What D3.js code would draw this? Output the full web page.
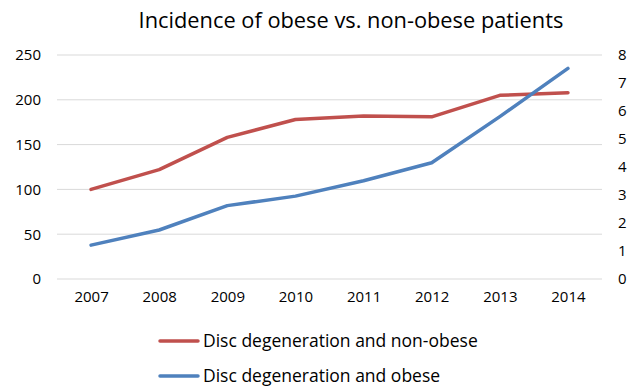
<!DOCTYPE html>
<html>
<head>
<meta charset="utf-8">
<script src="https://cdn.jsdelivr.net/npm/d3@7"></script>
<style>
  html, body { margin: 0; padding: 0; background: #fff; }
  svg text { font-family: "Open Sans", "Liberation Sans", sans-serif; fill: #000; }
</style>
</head>
<body>
<svg id="chart" width="641" height="389"></svg>
<script>
// Yearly incidence, non-obese on the left axis, obese on the right axis
const years = ["2007", "2008", "2009", "2010", "2011", "2012", "2013", "2014"];
const nonObese = [100, 122, 158, 178, 182, 181, 205, 208];
const obese = [1.21, 1.75, 2.62, 2.96, 3.51, 4.15, 5.8, 7.52];
const leftTicks = [0, 50, 100, 150, 200, 250];
const rightTicks = [0, 1, 2, 3, 4, 5, 6, 7, 8];
const seriesNames = ["Disc degeneration and non-obese", "Disc degeneration and obese"];
const colors = ["#C0504D", "#4F81BD"];

const svg = d3.select("#chart");
const plot = { left: 57, right: 602, top: 55, bottom: 279 };

const x = d3.scalePoint().domain(years).range([plot.left, plot.right]).padding(0.5);
const yL = d3.scaleLinear().domain([0, 250]).range([plot.bottom, plot.top]);
const yR = d3.scaleLinear().domain([0, 8]).range([plot.bottom, plot.top]);

// Title
svg.append("text")
  .attr("x", 351).attr("y", 28)
  .attr("text-anchor", "middle")
  .style("font-size", "21.8px")
  .text("Incidence of obese vs. non-obese patients");

// Horizontal gridlines on the left-axis ticks
svg.append("g").selectAll("line").data(leftTicks).join("line")
  .attr("x1", plot.left).attr("x2", plot.right)
  .attr("y1", d => yL(d)).attr("y2", d => yL(d))
  .attr("stroke", "#d9d9d9").attr("stroke-width", 1);

// Left axis
const axL = svg.append("g").attr("transform", `translate(${plot.left},0)`)
  .call(d3.axisLeft(yL).tickValues(leftTicks).tickSize(0).tickPadding(16));
axL.select(".domain").remove();
axL.selectAll("text").style("font-size", "15px").style("font-family", "Open Sans, sans-serif");

// Right axis
const axR = svg.append("g").attr("transform", `translate(${plot.right},0)`)
  .call(d3.axisRight(yR).tickValues(rightTicks).tickSize(0).tickPadding(16));
axR.select(".domain").remove();
axR.selectAll("text").style("font-size", "15px").style("font-family", "Open Sans, sans-serif");

// Bottom axis
const axB = svg.append("g").attr("transform", `translate(0,${plot.bottom})`)
  .call(d3.axisBottom(x).tickSize(0).tickPadding(12));
axB.select(".domain").remove();
axB.selectAll("text").style("font-size", "15px").style("font-family", "Open Sans, sans-serif");

// Lines
const lineL = d3.line().x((d, i) => x(years[i])).y(d => yL(d));
const lineR = d3.line().x((d, i) => x(years[i])).y(d => yR(d));

svg.append("path").datum(nonObese)
  .attr("d", lineL).attr("fill", "none")
  .attr("stroke", colors[0]).attr("stroke-width", 3.5)
  .attr("stroke-linejoin", "round").attr("stroke-linecap", "round");

svg.append("path").datum(obese)
  .attr("d", lineR).attr("fill", "none")
  .attr("stroke", colors[1]).attr("stroke-width", 3.5)
  .attr("stroke-linejoin", "round").attr("stroke-linecap", "round");

// Legend
const legend = svg.append("g").selectAll("g").data(seriesNames).join("g")
  .attr("transform", (d, i) => `translate(160,${341 + i * 35})`);
legend.append("line")
  .attr("x1", 0).attr("x2", 38).attr("y1", 0).attr("y2", 0)
  .attr("stroke", (d, i) => colors[i]).attr("stroke-width", 3.5)
  .attr("stroke-linecap", "round");
legend.append("text")
  .attr("x", 43).attr("y", 0).attr("dy", "0.35em")
  .style("font-size", "17.5px")
  .text(d => d);
</script>
</body>
</html>
